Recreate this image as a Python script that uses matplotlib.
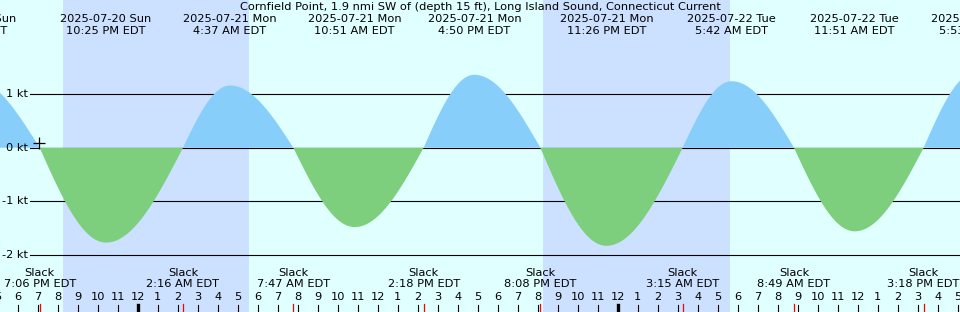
import numpy as np
import pandas as pd
import matplotlib
matplotlib.use("Agg")
import matplotlib.pyplot as plt
import matplotlib.transforms as mtransforms

title = "Cornfield Point, 1.9 nmi SW of (depth 15 ft), Long Island Sound, Connecticut Current"

# max flood (+) / max ebb (-) events, kt
max_times = ["2025-07-20 15:40", "2025-07-20 22:25", "2025-07-21 04:37", "2025-07-21 10:51",
             "2025-07-21 16:50", "2025-07-21 23:26", "2025-07-22 05:42", "2025-07-22 11:51",
             "2025-07-22 17:53"]
max_speeds = [1.30, -1.77, 1.16, -1.48, 1.36, -1.83, 1.24, -1.56, 1.40]

slack_times = ["2025-07-20 19:06", "2025-07-21 02:16", "2025-07-21 07:47", "2025-07-21 14:18",
               "2025-07-21 20:08", "2025-07-22 03:15", "2025-07-22 08:49", "2025-07-22 15:18"]

sunsets = ["2025-07-20 20:17", "2025-07-21 20:15"]
sunrises = ["2025-07-21 05:34", "2025-07-22 05:37"]

levels = [1, 0, -1, -2]
now_time = "2025-07-20 19:04"
now_speed = 0.08

start = pd.Timestamp("2025-07-20 17:07")
span_h = 48

day_col = "#E0FFFF"
night_col = "#CCE0FF"
flood_col = "#87CEFA"
ebb_col = "#7DCE7D"
fs = 8.2

def hrs(s):
    return (pd.Timestamp(s) - start) / pd.Timedelta(hours=1)

# build the curve: quarter-sine between slack and peak
events = sorted([(hrs(t), v) for t, v in zip(max_times, max_speeds)] +
                [(hrs(t), 0.0) for t in slack_times])
xs, ys = [], []
for (ta, va), (tb, vb) in zip(events[:-1], events[1:]):
    s = np.linspace(0, 1, 80)
    if va == 0:
        v = vb * np.sin(np.pi / 2 * s)
    else:
        v = va * np.cos(np.pi / 2 * s)
    xs.append(ta + (tb - ta) * s)
    ys.append(v)
x = np.concatenate(xs)
y = np.concatenate(ys)

W, H = 960, 312
zero_px, px_per_kt = 147.7, 53.6
ytop = zero_px / px_per_kt
ybot = -(H - zero_px) / px_per_kt

fig = plt.figure(figsize=(W / 100, H / 100), dpi=100)
ax = fig.add_axes([0, 0, 1, 1])
ax.set_xlim(0, span_h)
ax.set_ylim(ybot, ytop)
ax.axis("off")
fig.patch.set_facecolor(day_col)

for a, b in zip(sunsets, sunrises):
    ax.axvspan(hrs(a), hrs(b), color=night_col, lw=0, zorder=0)

for lv in levels:
    ax.axhline(lv, xmin=30 / W, xmax=1, color="black", lw=0.8, zorder=1)
    ax.text(28 / W, lv, f"{lv} kt", transform=mtransforms.blended_transform_factory(ax.transAxes, ax.transData),
            ha="right", va="center", fontsize=fs)

ax.fill_between(x, y, 0, where=y >= 0, interpolate=True, color=flood_col, lw=0, zorder=2)
ax.fill_between(x, y, 0, where=y <= 0, interpolate=True, color=ebb_col, lw=0, zorder=2)

ax.plot(hrs(now_time), now_speed, marker="+", color="black", ms=8, mew=0.9, zorder=3)

tr = mtransforms.blended_transform_factory(ax.transData, ax.transAxes)
def fy(py):
    return 1 - py / H

ax.text(0.5, fy(7), title, transform=ax.transAxes, ha="center", va="center", fontsize=fs)

for t in max_times:
    ts = pd.Timestamp(t)
    ax.text(hrs(t), fy(19), ts.strftime("%Y-%m-%d %a"), transform=tr, ha="center", va="center",
            fontsize=fs, clip_on=True)
    ax.text(hrs(t), fy(31), ts.strftime("%-I:%M %p EDT"), transform=tr, ha="center", va="center",
            fontsize=fs, clip_on=True)

for t in slack_times:
    ts = pd.Timestamp(t)
    ax.text(hrs(t), fy(273), "Slack", transform=tr, ha="center", va="center", fontsize=fs, clip_on=True)
    ax.text(hrs(t), fy(284), ts.strftime("%-I:%M %p EDT"), transform=tr, ha="center", va="center",
            fontsize=fs, clip_on=True)
    ax.plot([hrs(t)] * 2, [fy(304), 1 - 1], transform=tr, color="red", lw=0.9, zorder=4)

# hour ticks along the bottom
first = start.ceil("h")
for k in range(-1, span_h + 2):
    hh = first + pd.Timedelta(hours=k)
    hx = hrs(hh)
    lab = hh.strftime("%-I")
    ax.text(hx, fy(297), lab, transform=tr, ha="center", va="center", fontsize=fs, clip_on=True)
    lw = 2.4 if hh.hour == 0 else 0.8
    ax.plot([hx, hx], [fy(305), 0], transform=tr, color="black", lw=lw, zorder=3, clip_on=True)

fig.savefig("out.png", dpi=100, facecolor=day_col)
